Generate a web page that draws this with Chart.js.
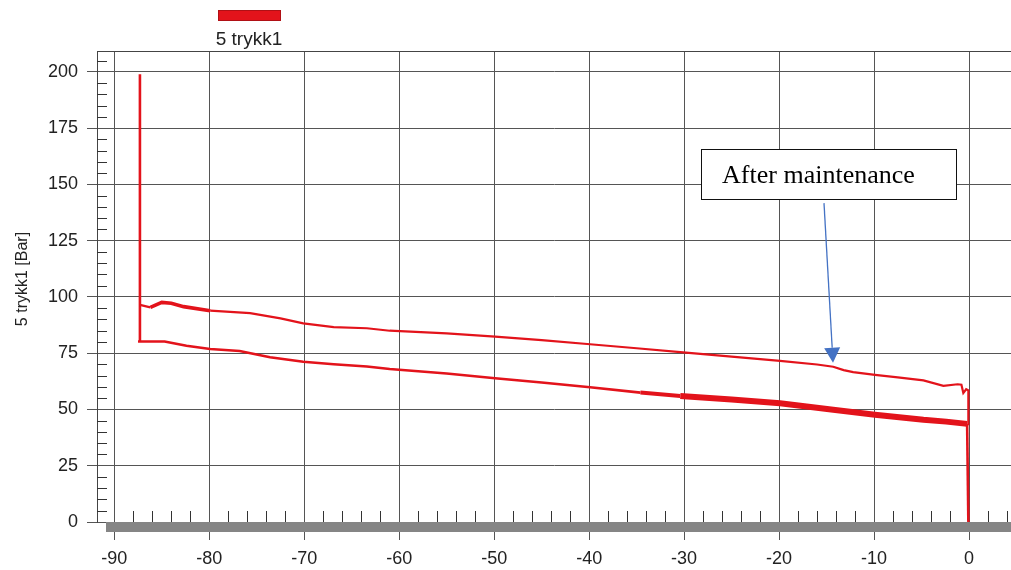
<!DOCTYPE html>
<html>
<head>
<meta charset="utf-8">
<script src="https://cdn.jsdelivr.net/npm/chart.js@4.4.0/dist/chart.umd.min.js"></script>
<style>
  html, body { margin: 0; padding: 0; background: #fff; }
  #wrap { width: 1011px; height: 570px; }
</style>
</head>
<body>
<div id="wrap"><canvas id="myChart" width="1011" height="570"></canvas></div>
<script>
var seriesLabel = "5 trykk1";
var axisTitle = "5 trykk1 [Bar]";
var noteText = "After maintenance";

// lower branch, starts with the start-up spike and ends with the drop to 0
var lowerX = [-87.3, -87.3, -87.5, -84.7, -82.4, -79.9, -76.8, -73.6, -70.1, -66.9, -63.4, -61.0, -55.0, -49.9, -45.0, -39.9, -34.6, -30.4, -25.0, -19.9, -14.3, -9.9, -4.8, -2.4, -0.2, -0.07];
var lowerY = [199, 80.2, 80.2, 80.2, 78.3, 76.9, 76.0, 73.2, 71.2, 70.1, 69.1, 68.0, 66.0, 63.9, 62.0, 59.9, 57.5, 56.0, 54.4, 52.8, 49.9, 47.7, 45.4, 44.6, 43.6, 0];

// upper branch
var upperX = [-87.3, -86.2, -85.0, -84.0, -82.7, -79.9, -75.7, -72.5, -70.1, -66.9, -63.4, -61.0, -55.0, -49.9, -45.0, -39.9, -35.0, -30.4, -25.0, -19.9, -16.0, -14.3, -13.2, -12.2, -9.9, -7.5, -4.8, -2.7, -1.2, -0.8, -0.6, -0.3, -0.07, -0.07];
var upperY = [96.5, 95.4, 97.6, 97.2, 95.7, 93.9, 92.8, 90.5, 88.3, 86.6, 86.1, 85.0, 83.8, 82.4, 80.8, 79.0, 77.2, 75.5, 73.5, 71.6, 70.0, 69.0, 67.5, 66.6, 65.4, 64.3, 62.9, 60.5, 61.2, 61.0, 57.3, 59.0, 58.5, 43.0];

var xMin = -91.82, xMax = 4.42;
var yMin = 0, yMax = 209.3;

// annotation box and arrow in data units
var noteBox = { x1: -28.22, y1: 165.7, x2: -1.37, y2: 143.5, textX: -26.0, textY: 150.5 };
var noteArrow = { x1: -15.27, y1: 141.7, x2: -14.32, y2: 70.8 };

var red = "#e3131b";
var fontFam = "'Liberation Sans', Arial, sans-serif";

var points = [];
for (var i = 0; i < lowerX.length; i++) points.push({ x: lowerX[i], y: lowerY[i] });
points.push({ x: 0, y: null });
for (var j = 0; j < upperX.length; j++) points.push({ x: upperX[j], y: upperY[j] });

var framePlugin = {
  id: "frame",
  beforeDatasetsDraw: function (chart) {
    var c = chart.ctx, a = chart.chartArea;
    var xs = chart.scales.x, ys = chart.scales.y;
    c.save();
    // grey axis band
    c.fillStyle = "#858585";
    c.fillRect(106, a.bottom, chart.width - 106, 10);
    // top border
    c.strokeStyle = "#444";
    c.lineWidth = 1;
    c.beginPath();
    c.moveTo(a.left, a.top + 0.5);
    c.lineTo(a.right, a.top + 0.5);
    c.stroke();
    // minor ticks on y
    c.strokeStyle = "#333";
    c.beginPath();
    for (var v = 5; v <= 205; v += 5) {
      if (v % 25 === 0) continue;
      var py = Math.round(ys.getPixelForValue(v)) + 0.5;
      c.moveTo(a.left, py);
      c.lineTo(a.left + 10, py);
    }
    // minor ticks on x
    for (var u = -88; u <= 4; u += 2) {
      if (u % 10 === 0) continue;
      var px = Math.round(xs.getPixelForValue(u)) + 0.5;
      c.moveTo(px, a.bottom);
      c.lineTo(px, a.bottom - 11);
    }
    c.stroke();
    c.restore();
  },
  afterDraw: function (chart) {
    var c = chart.ctx;
    var xs = chart.scales.x, ys = chart.scales.y;
    c.save();
    // legend
    c.fillStyle = red;
    c.fillRect(218, 10, 63, 11);
    c.strokeStyle = "#b01015";
    c.lineWidth = 1;
    c.strokeRect(218.5, 10.5, 62, 10);
    c.fillStyle = "#222";
    c.font = "19px " + fontFam;
    c.textAlign = "center";
    c.textBaseline = "middle";
    c.fillText(chart.data.datasets[0].label, 249, 40);

    // y axis title
    c.save();
    c.translate(23, 279);
    c.rotate(-Math.PI / 2);
    c.font = "16px " + fontFam;
    c.fillText(axisTitle, 0, 0);
    c.restore();

    // annotation box
    var bx1 = xs.getPixelForValue(noteBox.x1), bx2 = xs.getPixelForValue(noteBox.x2);
    var by1 = ys.getPixelForValue(noteBox.y1), by2 = ys.getPixelForValue(noteBox.y2);
    c.fillStyle = "#fff";
    c.fillRect(bx1, by1, bx2 - bx1, by2 - by1);
    c.strokeStyle = "#111";
    c.lineWidth = 1;
    c.strokeRect(Math.round(bx1) + 0.5, Math.round(by1) + 0.5, Math.round(bx2 - bx1), Math.round(by2 - by1));
    c.fillStyle = "#000";
    c.font = "26px 'Liberation Serif', 'Times New Roman', serif";
    c.textAlign = "left";
    c.textBaseline = "alphabetic";
    c.fillText(noteText, xs.getPixelForValue(noteBox.textX), ys.getPixelForValue(noteBox.textY));

    // arrow
    var ax1 = xs.getPixelForValue(noteArrow.x1), ay1 = ys.getPixelForValue(noteArrow.y1);
    var ax2 = xs.getPixelForValue(noteArrow.x2), ay2 = ys.getPixelForValue(noteArrow.y2);
    var dx = ax2 - ax1, dy = ay2 - ay1, len = Math.sqrt(dx * dx + dy * dy);
    var ux = dx / len, uy = dy / len;
    var hl = 15, hw = 8;
    var bxh = ax2 - ux * hl, byh = ay2 - uy * hl;
    c.strokeStyle = "#4472c4";
    c.fillStyle = "#4472c4";
    c.lineWidth = 1.3;
    c.beginPath();
    c.moveTo(ax1, ay1);
    c.lineTo(bxh, byh);
    c.stroke();
    c.beginPath();
    c.moveTo(ax2, ay2);
    c.lineTo(bxh - uy * hw, byh + ux * hw);
    c.lineTo(bxh + uy * hw, byh - ux * hw);
    c.closePath();
    c.fill();
    c.restore();
  }
};

var ctx = document.getElementById("myChart").getContext("2d");
var myChart = new Chart(ctx, {
  type: "line",
  data: {
    datasets: [
      {
        label: seriesLabel,
        data: points,
        borderColor: red,
        borderWidth: 2.4,
        pointRadius: 0,
        tension: 0,
        spanGaps: false,
        segment: {
          borderWidth: function (s) {
            var x0 = s.p0.parsed.x;
            if (s.p0DataIndex < lowerX.length) {
              if (s.p1.parsed.y < 10 || s.p0.parsed.y > 150) return 2.6;
              if (x0 > -31) return 6;
              return x0 > -35 ? 4 : 2.6;
            }
            return (x0 > -86.5 && x0 < -82) ? 3.6 : 2.2;
          }
        }
      }
    ]
  },
  options: {
    responsive: false,
    animation: false,
    layout: { padding: { top: 51, left: 0, right: 0, bottom: 0 } },
    plugins: { legend: { display: false }, tooltip: { enabled: false } },
    scales: {
      x: {
        type: "linear",
        min: xMin,
        max: xMax,
        afterFit: function (s) { s.height = 48; },
        ticks: { stepSize: 10, includeBounds: false, padding: 8, maxRotation: 0, color: "#222", font: { size: 18, family: fontFam } },
        grid: { color: "#555", lineWidth: 1, tickLength: 18, drawTicks: true },
        border: { display: false }
      },
      y: {
        min: yMin,
        max: yMax,
        afterFit: function (s) { s.width = 97; },
        ticks: { stepSize: 25, includeBounds: false, padding: 9, color: "#222", font: { size: 18, family: fontFam } },
        grid: { color: "#555", lineWidth: 1, tickLength: 10, drawTicks: true },
        border: { display: true, color: "#444", width: 1 },
        title: { display: false, text: axisTitle }
      }
    }
  },
  plugins: [framePlugin]
});
</script>
</body>
</html>
